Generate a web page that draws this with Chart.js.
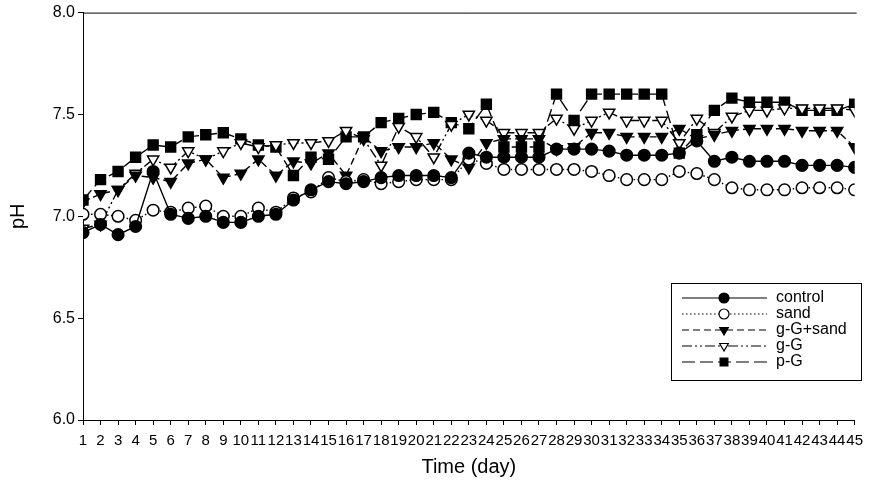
<!DOCTYPE html>
<html>
<head>
<meta charset="utf-8">
<script src="https://cdn.jsdelivr.net/npm/chart.js@4.4.1/dist/chart.umd.min.js"></script>
<style>
  html, body { margin: 0; padding: 0; background: #fff; }
  #wrap { width: 870px; height: 483px; position: relative; }
</style>
</head>
<body>
<div id="wrap"><canvas id="lineChart"></canvas></div>
<script>
// Dias de muestreo
const dias = [];
for (let d = 1; d <= 45; d++) dias.push(d);

// Valores de pH
const control = [6.92, 6.96, 6.91, 6.95, 7.22, 7.01, 6.99, 7.00, 6.97, 6.97,
  7.00, 7.01, 7.08, 7.13, 7.17, 7.16, 7.17, 7.19, 7.20, 7.20,
  7.20, 7.19, 7.31, 7.29, 7.29, 7.29, 7.29, 7.33, 7.33, 7.33,
  7.32, 7.30, 7.30, 7.30, 7.31, 7.37, 7.27, 7.29, 7.27, 7.27,
  7.27, 7.25, 7.25, 7.25, 7.24];
const sand = [7.01, 7.01, 7.00, 6.98, 7.03, 7.02, 7.04, 7.05, 7.00, 7.00,
  7.04, 7.02, 7.09, 7.12, 7.19, 7.17, 7.18, 7.16, 7.17, 7.18,
  7.18, 7.18, 7.28, 7.26, 7.23, 7.23, 7.23, 7.23, 7.23, 7.22,
  7.20, 7.18, 7.18, 7.18, 7.22, 7.21, 7.18, 7.14, 7.13, 7.13,
  7.13, 7.14, 7.14, 7.14, 7.13];
const gGsand = [7.07, 7.11, 7.13, 7.20, 7.19, 7.17, 7.26, 7.28, 7.19, 7.21,
  7.28, 7.20, 7.27, 7.26, 7.31, 7.20, 7.39, 7.32, 7.34, 7.34,
  7.36, 7.28, 7.24, 7.36, 7.38, 7.38, 7.38, 7.33, 7.34, 7.41,
  7.41, 7.39, 7.39, 7.39, 7.43, 7.38, 7.40, 7.42, 7.43, 7.43,
  7.43, 7.42, 7.42, 7.42, 7.34];
const gG = [6.94, 6.96, 7.13, 7.21, 7.28, 7.24, 7.32, 7.28, 7.32, 7.36,
  7.34, 7.35, 7.36, 7.36, 7.37, 7.42, 7.38, 7.25, 7.44, 7.39,
  7.29, 7.45, 7.50, 7.47, 7.41, 7.41, 7.41, 7.48, 7.43, 7.47,
  7.51, 7.47, 7.47, 7.47, 7.36, 7.48, 7.41, 7.49, 7.52, 7.52,
  7.53, 7.53, 7.53, 7.53, 7.52];
const pG = [7.08, 7.18, 7.22, 7.29, 7.35, 7.34, 7.39, 7.40, 7.41, 7.38,
  7.35, 7.34, 7.20, 7.29, 7.28, 7.39, 7.39, 7.46, 7.48, 7.50,
  7.51, 7.46, 7.43, 7.55, 7.34, 7.34, 7.34, 7.60, 7.47, 7.60,
  7.60, 7.60, 7.60, 7.60, 7.31, 7.40, 7.52, 7.58, 7.56, 7.56,
  7.56, 7.52, 7.52, 7.52, 7.55];

// Etiquetas de los ejes
const yTicks = [6.0, 6.5, 7.0, 7.5, 8.0];
const nombres = ["control", "sand", "g-G+sand", "g-G", "p-G"];

const fuente = "'Liberation Sans', Arial, sans-serif";

function serie(valores) {
  return valores.map((v, i) => ({ x: dias[i], y: v }));
}

function estilo(nombre, valores, dash, punto, relleno, rot) {
  return {
    label: nombre,
    data: serie(valores),
    borderColor: "#000",
    borderWidth: 1.4,
    borderDash: dash,
    pointStyle: punto,
    pointRotation: rot || 0,
    pointRadius: punto === "rect" ? 7 : (punto === "triangle" ? 6.5 : 5.8),
    pointBackgroundColor: relleno,
    pointBorderColor: "#000",
    pointBorderWidth: 1.5,
    tension: 0,
    fill: false
  };
}

// Leyenda dibujada a mano con cuadro, linea y marcador
const leyendaCaja = {
  id: "leyendaCaja",
  afterDraw(chart) {
    const ctx = chart.ctx;
    const area = chart.chartArea;
    ctx.save();
    // borde superior del grafico
    ctx.strokeStyle = "#000";
    ctx.lineWidth = 1;
    ctx.beginPath();
    ctx.moveTo(area.left, area.top + 0.5);
    ctx.lineTo(area.right + 2, area.top + 0.5);
    ctx.stroke();

    ctx.strokeRect(671.5, 283.5, 190, 97);
    ctx.font = "16px " + fuente;
    ctx.textBaseline = "middle";
    chart.data.datasets.forEach((ds, i) => {
      const y = 298 + i * 16;
      ctx.setLineDash(ds.borderDash || []);
      ctx.lineWidth = 1.2;
      ctx.beginPath();
      ctx.moveTo(682, y);
      ctx.lineTo(767, y);
      ctx.stroke();
      ctx.setLineDash([]);
      ctx.fillStyle = ds.pointBackgroundColor;
      ctx.strokeStyle = "#000";
      Chart.helpers.drawPoint(ctx, {
        pointStyle: ds.pointStyle,
        rotation: ds.pointRotation,
        radius: ds.pointStyle === "rect" ? 5.5 : 5,
        borderWidth: 1.2
      }, 724, y);
      ctx.fillStyle = "#000";
      ctx.fillText(ds.label, 776, y);
    });
    ctx.restore();
  }
};

const ctx = document.getElementById("lineChart");

new Chart(ctx, {
  type: "line",
  data: {
    datasets: [
      estilo(nombres[0], control, [], "circle", "#000"),
      estilo(nombres[1], sand, [1.5, 2.5], "circle", "#fff"),
      estilo(nombres[2], gGsand, [7, 4], "triangle", "#000", 180),
      estilo(nombres[3], gG, [10, 3, 2, 3, 2, 3], "triangle", "#fff", 180),
      estilo(nombres[4], pG, [13, 5], "rect", "#000")
    ]
  },
  options: {
    responsive: true,
    maintainAspectRatio: false,
    animation: false,
    layout: { padding: { top: 12, right: 9, left: 0, bottom: 0 } },
    plugins: {
      legend: { display: false },
      tooltip: { enabled: false }
    },
    scales: {
      x: {
        type: "linear",
        min: 1,
        max: 45,
        afterFit: s => { s.height = 63; },
        afterBuildTicks: s => { s.ticks = dias.map(d => ({ value: d })); },
        ticks: {
          autoSkip: false,
          maxRotation: 0,
          color: "#000",
          padding: 7,
          font: { family: fuente, size: 15 }
        },
        grid: { drawOnChartArea: false, tickLength: 5, color: "#000" },
        border: { color: "#000", width: 1 },
        title: {
          display: true,
          text: "Time (day)",
          color: "#000",
          padding: { top: 0, bottom: 4 },
          font: { family: fuente, size: 20 }
        }
      },
      y: {
        min: 6,
        max: 8,
        afterFit: s => { s.width = 83; },
        afterBuildTicks: s => { s.ticks = yTicks.map(v => ({ value: v })); },
        ticks: {
          color: "#000",
          padding: 3,
          font: { family: fuente, size: 16 },
          callback: v => v.toFixed(1)
        },
        grid: { drawOnChartArea: false, tickLength: 5, color: "#000" },
        border: { color: "#000", width: 1 },
        title: {
          display: true,
          text: "pH",
          color: "#000",
          padding: { top: 6, bottom: 0 },
          font: { family: fuente, size: 20 }
        }
      }
    }
  },
  plugins: [leyendaCaja]
});
</script>
</body>
</html>
